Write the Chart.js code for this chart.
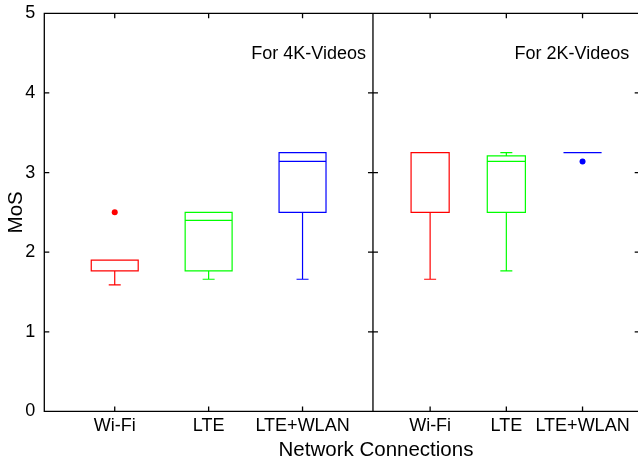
<!DOCTYPE html>
<html>
<head>
<meta charset="utf-8">
<script src="https://cdn.jsdelivr.net/npm/chart.js@4.4.1/dist/chart.umd.min.js"></script>
<style>
  html, body { margin: 0; padding: 0; background: #fff; overflow: hidden; }
  #wrap { position: absolute; left: 0; top: 0; width: 638px; height: 465px; overflow: hidden; }
  #c { position: absolute; left: 0; top: 0; }
</style>
</head>
<body>
<div id="wrap"><canvas id="c" width="642" height="465"></canvas></div>
<script>
// ── DADOS ─────────────────────────────────────────────────────────
const categories = ['Wi-Fi', 'LTE', 'LTE+WLAN'];
const colors     = ['#ff0000', '#00ff00', '#0000ff'];

// 4K-Videos
const min4K = [1.59, 1.66, 1.66];
const q1_4K = [1.765, 1.765, 2.5];
const med4K = [1.9, 2.4, 3.14];
const q3_4K = [1.9, 2.5, 3.25];
const max4K = [1.9, 2.5, 3.25];
const out4K = [[2.5], [], []];

// 2K-Videos
const min2K = [1.66, 1.765, 3.25];
const q1_2K = [2.5, 2.5, 3.25];
const med2K = [3.25, 3.14, 3.25];
const q3_2K = [3.25, 3.21, 3.25];
const max2K = [3.25, 3.25, 3.25];
const out2K = [[], [], [3.14]];

const yTicks = [0, 1, 2, 3, 4, 5];

const FONT = "'Liberation Sans', Arial, Helvetica, sans-serif";
const BOX_W = 0.5;   // largura da caixa em unidades de categoria
const CAP = 6;       // meia largura das barras dos bigodes (px)
const TICK = 5;

// ── HELPERS ───────────────────────────────────────────────────────
function outlierSet(outs, axisId) {
  const pts = [];
  outs.forEach((arr, i) => arr.forEach(v => pts.push({ x: i, y: v, c: colors[i] })));
  return {
    data: pts,
    xAxisID: axisId,
    yAxisID: 'y',
    pointRadius: 3,
    pointBorderWidth: 0,
    pointBackgroundColor: pts.map(p => p.c),
  };
}

function noPad(s) {
  s.paddingTop = 0; s.paddingBottom = 0;
  s.paddingLeft = 0; s.paddingRight = 0;
}

function drawBoxes(chart, axisId, p) {
  const ctx = chart.ctx, xs = chart.scales[axisId], ys = chart.scales.y;
  const half = xs.getPixelForValue(BOX_W / 2) - xs.getPixelForValue(0);
  ctx.save();
  ctx.lineWidth = 1.2;
  categories.forEach((c, i) => {
    const cx = xs.getPixelForValue(i);
    const yMin = ys.getPixelForValue(p.min[i]);
    const yQ1 = ys.getPixelForValue(p.q1[i]);
    const yMed = ys.getPixelForValue(p.med[i]);
    const yQ3 = ys.getPixelForValue(p.q3[i]);
    const yMax = ys.getPixelForValue(p.max[i]);
    ctx.strokeStyle = colors[i];
    ctx.beginPath();
    ctx.rect(cx - half, yQ3, 2 * half, yQ1 - yQ3);
    ctx.moveTo(cx - half, yMed); ctx.lineTo(cx + half, yMed);
    ctx.moveTo(cx, yQ1); ctx.lineTo(cx, yMin);
    ctx.moveTo(cx, yQ3); ctx.lineTo(cx, yMax);
    ctx.moveTo(cx - CAP, yMin); ctx.lineTo(cx + CAP, yMin);
    ctx.moveTo(cx - CAP, yMax); ctx.lineTo(cx + CAP, yMax);
    ctx.stroke();
  });
  ctx.restore();
}

const boxPlugin = {
  id: 'boxplot',
  beforeDatasetsDraw(chart) {
    drawBoxes(chart, 'x4', { min: min4K, q1: q1_4K, med: med4K, q3: q3_4K, max: max4K });
    drawBoxes(chart, 'x2', { min: min2K, q1: q1_2K, med: med2K, q3: q3_2K, max: max2K });
  },
  afterDraw(chart) {
    const ctx = chart.ctx, a = chart.chartArea, ys = chart.scales.y;
    const x4 = chart.scales.x4, x2 = chart.scales.x2;
    const div = x4.right;
    ctx.save();
    ctx.strokeStyle = '#000';
    ctx.lineWidth = 1.3;
    ctx.beginPath();
    ctx.rect(a.left, a.top, a.right - a.left, a.bottom - a.top);
    ctx.moveTo(div, a.top); ctx.lineTo(div, a.bottom);
    // marcas para dentro
    yTicks.forEach(v => {
      const y = ys.getPixelForValue(v);
      ctx.moveTo(a.left, y); ctx.lineTo(a.left + TICK, y);
      ctx.moveTo(div - TICK, y); ctx.lineTo(div + TICK, y);
      ctx.moveTo(a.right - TICK, y); ctx.lineTo(a.right, y);
    });
    [x4, x2].forEach(xs => {
      categories.forEach((c, i) => {
        const x = xs.getPixelForValue(i);
        ctx.moveTo(x, a.bottom); ctx.lineTo(x, a.bottom - TICK);
        ctx.moveTo(x, a.top); ctx.lineTo(x, a.top + TICK);
      });
    });
    ctx.stroke();

    ctx.fillStyle = '#000';
    ctx.font = '18px ' + FONT;
    ctx.textAlign = 'right';
    ctx.textBaseline = 'middle';
    ctx.fillText('For 4K-Videos', x4.right - 7, 54);
    ctx.fillText('For 2K-Videos', x2.right - 10.5, 54);

    ctx.font = '20.5px ' + FONT;
    ctx.textAlign = 'center';
    ctx.fillText('Network Connections', div + 3, 450);
    ctx.restore();
  }
};

function catAxis(weight) {
  return {
    type: 'linear',
    position: 'bottom',
    stack: 'net',
    stackWeight: weight,
    min: -0.75,
    max: 2.75,
    afterBuildTicks: s => { s.ticks = categories.map((c, i) => ({ value: i })); },
    afterFit: s => { s.height = 53.6; noPad(s); },
    grid: { display: false, drawTicks: false },
    border: { display: false },
    ticks: {
      autoSkip: false,
      maxRotation: 0,
      padding: 4,
      color: '#000',
      font: { family: FONT, size: 18 },
      callback: v => categories[v],
    },
  };
}

const chart = new Chart(document.getElementById('c'), {
  type: 'scatter',
  data: {
    datasets: [outlierSet(out4K, 'x4'), outlierSet(out2K, 'x2')],
  },
  options: {
    responsive: false,
    animation: false,
    layout: { autoPadding: false, padding: { top: 13.3, right: 2.3, left: 0, bottom: 0 } },
    plugins: { legend: { display: false }, tooltip: { enabled: false } },
    scales: {
      y: {
        min: 0,
        max: 5,
        afterFit: s => { s.width = 44.3; noPad(s); },
        afterBuildTicks: s => { s.ticks = yTicks.map(v => ({ value: v })); },
        grid: { display: false, drawTicks: false },
        border: { display: false },
        ticks: { padding: 9, color: '#000', font: { family: FONT, size: 18 } },
        title: {
          display: true,
          text: 'MoS',
          color: '#000',
          font: { family: FONT, size: 20.5 },
          padding: { top: 4, bottom: 0 },
        },
      },
      x4: catAxis(329),
      x2: catAxis(267),
    },
  },
  plugins: [boxPlugin],
});
</script>
</body>
</html>
